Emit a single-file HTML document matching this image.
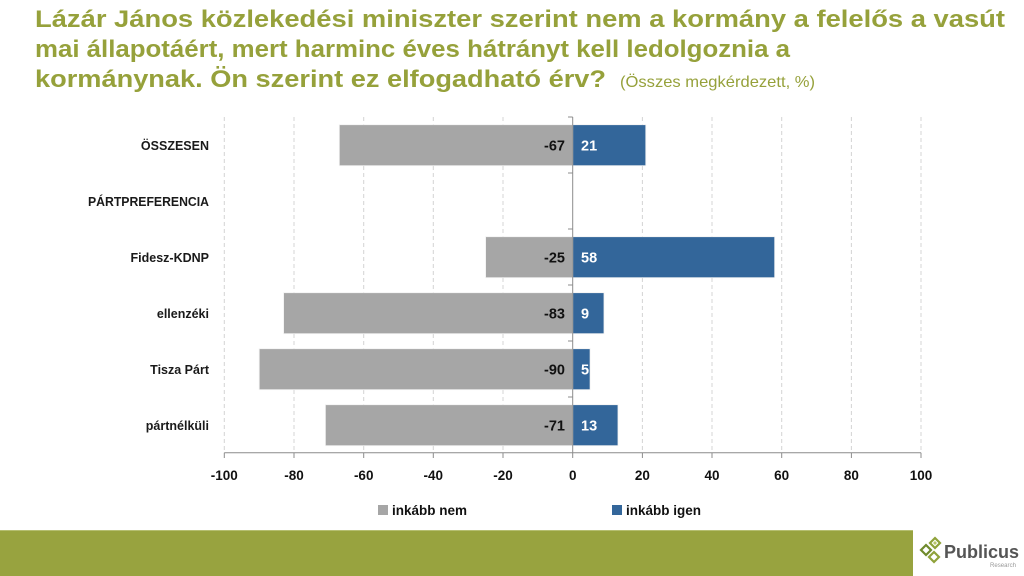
<!DOCTYPE html>
<html><head><meta charset="utf-8"><style>
html,body{margin:0;padding:0;background:#fff;}
svg{display:block;}
text{font-family:"Liberation Sans",sans-serif;}
</style></head><body>
<svg width="1024" height="576" viewBox="0 0 1024 576" xmlns="http://www.w3.org/2000/svg">
<rect width="1024" height="576" fill="#fff"/>
<!-- Title -->
<g fill="#96a13b" font-weight="bold" font-size="24.5">
<text x="35" y="27" textLength="970" lengthAdjust="spacingAndGlyphs">Lázár János közlekedési miniszter szerint nem a kormány a felelős a vasút</text>
<text x="35" y="57" textLength="755" lengthAdjust="spacingAndGlyphs">mai állapotáért, mert harminc éves hátrányt kell ledolgoznia a</text>
<text x="35" y="87" textLength="571" lengthAdjust="spacingAndGlyphs">kormánynak. Ön szerint ez elfogadható érv?</text>
</g>
<text x="620" y="87" fill="#96a13b" font-size="16" textLength="195" lengthAdjust="spacingAndGlyphs">(Összes megkérdezett, %)</text>

<!-- gridlines -->
<g stroke="#d4d4d4" stroke-width="1" stroke-dasharray="4,3">
<line x1="224.3" y1="117" x2="224.3" y2="453"/>
<line x1="294" y1="117" x2="294" y2="453"/>
<line x1="363.7" y1="117" x2="363.7" y2="453"/>
<line x1="433.3" y1="117" x2="433.3" y2="453"/>
<line x1="503" y1="117" x2="503" y2="453"/>
<line x1="642.4" y1="117" x2="642.4" y2="453"/>
<line x1="712" y1="117" x2="712" y2="453"/>
<line x1="781.7" y1="117" x2="781.7" y2="453"/>
<line x1="851.4" y1="117" x2="851.4" y2="453"/>
<line x1="921" y1="117" x2="921" y2="453"/>
</g>

<!-- bars -->
<g stroke="#f2f2f2" stroke-width="0.8">
<rect x="339.3" y="124.7" width="233.4" height="41" fill="#a6a6a6"/>
<rect x="572.7" y="124.7" width="73.1" height="41" fill="#33669a"/>
<rect x="485.6" y="236.7" width="87.1" height="41" fill="#a6a6a6"/>
<rect x="572.7" y="236.7" width="202" height="41" fill="#33669a"/>
<rect x="283.6" y="292.7" width="289.1" height="41" fill="#a6a6a6"/>
<rect x="572.7" y="292.7" width="31.3" height="41" fill="#33669a"/>
<rect x="259.2" y="348.7" width="313.5" height="41" fill="#a6a6a6"/>
<rect x="572.7" y="348.7" width="17.4" height="41" fill="#33669a"/>
<rect x="325.4" y="404.7" width="247.3" height="41" fill="#a6a6a6"/>
<rect x="572.7" y="404.7" width="45.3" height="41" fill="#33669a"/>
</g>

<!-- axes -->
<g stroke="#8c8c8c" stroke-width="1">
<line x1="572.7" y1="117" x2="572.7" y2="453"/>
<line x1="568" y1="117" x2="572.7" y2="117"/>
<line x1="568" y1="173" x2="572.7" y2="173"/>
<line x1="568" y1="229" x2="572.7" y2="229"/>
<line x1="568" y1="285" x2="572.7" y2="285"/>
<line x1="568" y1="341" x2="572.7" y2="341"/>
<line x1="568" y1="397" x2="572.7" y2="397"/>
<line x1="224.3" y1="452.7" x2="921" y2="452.7"/>
<line x1="224.3" y1="452.7" x2="224.3" y2="458"/>
<line x1="294" y1="452.7" x2="294" y2="458"/>
<line x1="363.7" y1="452.7" x2="363.7" y2="458"/>
<line x1="433.3" y1="452.7" x2="433.3" y2="458"/>
<line x1="503" y1="452.7" x2="503" y2="458"/>
<line x1="572.7" y1="452.7" x2="572.7" y2="458"/>
<line x1="642.4" y1="452.7" x2="642.4" y2="458"/>
<line x1="712" y1="452.7" x2="712" y2="458"/>
<line x1="781.7" y1="452.7" x2="781.7" y2="458"/>
<line x1="851.4" y1="452.7" x2="851.4" y2="458"/>
<line x1="921" y1="452.7" x2="921" y2="458"/>
</g>

<!-- category labels -->
<g font-size="12.5" font-weight="bold" fill="#1a1a1a" text-anchor="end">
<text x="209" y="150">ÖSSZESEN</text>
<text x="209" y="206" textLength="121" lengthAdjust="spacingAndGlyphs">PÁRTPREFERENCIA</text>
<text x="209" y="262">Fidesz-KDNP</text>
<text x="209" y="318">ellenzéki</text>
<text x="209" y="374">Tisza Párt</text>
<text x="209" y="430">pártnélküli</text>
</g>

<!-- data labels -->
<g font-size="14.5" font-weight="bold" fill="#111" text-anchor="end">
<text x="565" y="150.5">-67</text>
<text x="565" y="262.5">-25</text>
<text x="565" y="318.5">-83</text>
<text x="565" y="374.5">-90</text>
<text x="565" y="430.5">-71</text>
</g>
<g font-size="14.5" font-weight="bold" fill="#fff">
<text x="581" y="150.5">21</text>
<text x="581" y="262.5">58</text>
<text x="581" y="318.5">9</text>
<text x="581" y="374.5">5</text>
<text x="581" y="430.5">13</text>
</g>

<!-- tick labels -->
<g font-size="13.5" font-weight="bold" fill="#111" text-anchor="middle">
<text x="224.3" y="480">-100</text>
<text x="294" y="480">-80</text>
<text x="363.7" y="480">-60</text>
<text x="433.3" y="480">-40</text>
<text x="503" y="480">-20</text>
<text x="572.7" y="480">0</text>
<text x="642.4" y="480">20</text>
<text x="712" y="480">40</text>
<text x="781.7" y="480">60</text>
<text x="851.4" y="480">80</text>
<text x="921" y="480">100</text>
</g>

<!-- legend -->
<rect x="378" y="505" width="10" height="10" fill="#a6a6a6"/>
<text x="392" y="515" font-size="13.5" font-weight="bold" fill="#111">inkább nem</text>
<rect x="612" y="505" width="10" height="10" fill="#33669a"/>
<text x="626" y="515" font-size="13.5" font-weight="bold" fill="#111">inkább igen</text>

<!-- footer -->
<rect x="0" y="530" width="913" height="46" fill="#98a33f"/>
<line x1="0" y1="530.5" x2="913" y2="530.5" stroke="#b5be70" stroke-width="1"/>
<!-- logo -->
<g stroke-width="2.2" fill="none">
<polygon points="935,538 940,543 935,548 930,543" stroke="#8fa23a"/>
<polygon points="926,545 931,550 926,555 921,550" stroke="#6f8a2c"/>
<polygon points="934,552 939,557 934,562 929,557" stroke="#8fa23a"/>
</g>
<polygon points="935,541 937,543 935,545 933,543" fill="#b7c56a"/>
<text x="944" y="558" font-size="18" font-weight="bold" fill="#555" textLength="75" lengthAdjust="spacingAndGlyphs">Publicus</text>
<text x="990" y="567" font-size="6" fill="#999" textLength="26" lengthAdjust="spacingAndGlyphs">Research</text>
</svg>
</body></html>
